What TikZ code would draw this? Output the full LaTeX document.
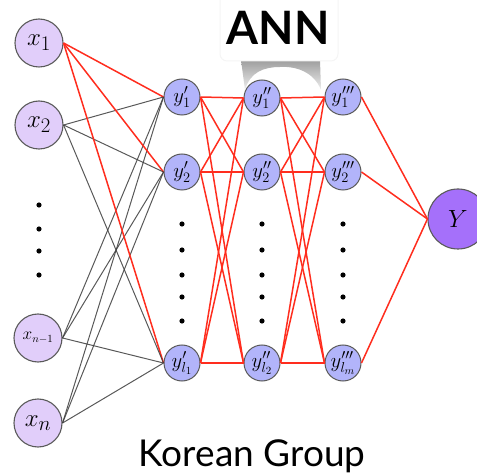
\documentclass[tikz,border=0pt]{standalone}
\usepackage{fontspec}
\newfontfamily\latofont{Lato}
\definecolor{inpc}{RGB}{225,206,250}
\definecolor{hidc}{RGB}{178,180,250}
\definecolor{outc}{RGB}{165,112,250}
\definecolor{redl}{RGB}{255,45,30}
\definecolor{grayl}{RGB}{60,60,60}
\definecolor{bordc}{RGB}{90,90,90}
\begin{document}
\begin{tikzpicture}[x=1pt,y=-1pt,
  innode/.style={circle, draw=bordc, line width=1.1pt, fill=inpc, minimum size=48pt, inner sep=0pt, font=\fontsize{30}{30}\selectfont},
  hidnode/.style={circle, draw=bordc, line width=1pt, fill=hidc, minimum size=36pt, inner sep=0pt, font=\fontsize{21}{21}\selectfont},
  outnode/.style={circle, draw=bordc, line width=1.1pt, fill=outc, minimum size=60pt, inner sep=0pt, font=\fontsize{30}{30}\selectfont},
  redline/.style={draw=redl, line width=1.5pt},
  grayline/.style={draw=grayl, line width=1pt, opacity=0.85},
  dotmark/.style={fill=black}
]
\useasboundingbox (0,0) rectangle (477,473);
\clip (0,0) rectangle (477,473);

% title shadow and box
\shade[top color=gray!90, bottom color=gray!15, opacity=0.85]
  (241,60) -- (320,60) -- (321,90) .. controls (314,72) and (296,66) .. (280,67)
  .. controls (264,67) and (250,72) .. (245,90) -- cycle;
\fill[white, draw=black!4, line width=1pt, rounded corners=7pt] (220,-10) rectangle (338,61);
\node[font=\latofont\bfseries\fontsize{46}{46}\selectfont, anchor=base, inner sep=0pt] (title) at (278,45) {ANN};

% input nodes
\node[innode] (x1) at (39,43) {$x_1$};
\node[innode] (x2) at (39,125) {$x_2$};
\node[innode, font=\fontsize{16}{16}\selectfont] (xn1) at (38,338) {$x_{n-1}$};
\node[innode] (xn) at (38,423) {$x_n$};

% hidden layers
\node[hidnode] (a1) at (182,97) {$y'_1$};
\node[hidnode] (a2) at (182,172) {$y'_2$};
\node[hidnode] (a3) at (182,363) {$y'_{l_1}$};
\node[hidnode] (b1) at (262,98) {$y''_1$};
\node[hidnode] (b2) at (262,172) {$y''_2$};
\node[hidnode] (b3) at (262,363) {$y''_{l_2}$};
\node[hidnode] (c1) at (343,97) {$y'''_1$};
\node[hidnode] (c2) at (343,172) {$y'''_2$};
\node[hidnode] (c3) at (343,363) {$y'''_{l_m}$};

% output
\node[outnode] (Y) at (458,219) {$Y$};

% dots
\foreach \yy in {205,229,251,275} \fill[dotmark] (39,\yy) circle (2.6);
\foreach \xx in {182,262,343} \foreach \yy in {224,250,275,297,321} \fill[dotmark] (\xx,\yy) circle (2.6);

% input -> layer 1
\foreach \h in {a1,a2,a3} {
  \draw[redline] (x1.east) -- (\h.west);
  \draw[grayline] (x2.east) -- (\h.west);
  \draw[grayline] (xn1.east) -- (\h.west);
  \draw[grayline] (xn.east) -- (\h.west);
}
% layer 1 -> layer 2 -> layer 3
\foreach \s in {a1,a2,a3} \foreach \t in {b1,b2,b3} \draw[redline] (\s.east) -- (\t.west);
\foreach \s in {b1,b2,b3} \foreach \t in {c1,c2,c3} \draw[redline] (\s.east) -- (\t.west);
% layer 3 -> output
\foreach \s in {c1,c2,c3} \draw[redline] (\s.east) -- (Y.west);

% footer
\node[font=\latofont\fontsize{37}{37}\selectfont, anchor=base, inner sep=0pt] (grp) at (252,466) {Korean Group};
\end{tikzpicture}
\end{document}
